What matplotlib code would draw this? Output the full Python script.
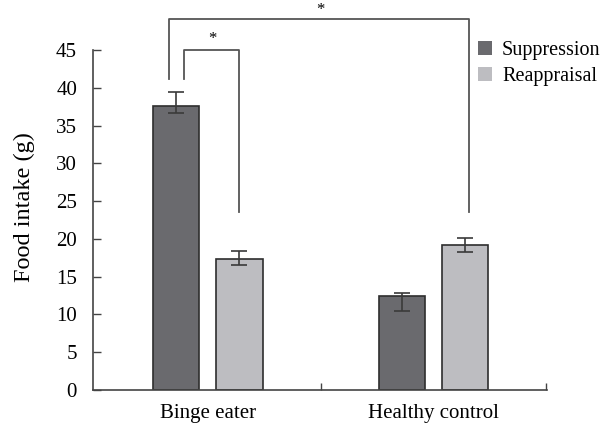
import matplotlib
matplotlib.use("Agg")
import matplotlib.pyplot as plt
import numpy as np

# data
groups = ["Binge eater", "Healthy control"]
conditions = ["Suppression", "Reappraisal"]
suppression = [37.6, 12.4]
reappraisal = [17.4, 19.15]
supp_err_low = [1.0, 1.9]
supp_err_high = [1.9, 0.4]
reap_err_low = [0.8, 0.85]
reap_err_high = [1.0, 0.95]

plt.rcParams['font.family'] = ['Liberation Serif', 'DejaVu Serif']
plt.rcParams['font.size'] = 15

dark = '#6a6a6e'
light = '#bdbdc1'
edge = '#2e2e2e'

fig = plt.figure(figsize=(6.03, 4.26), dpi=100)
ax = fig.add_axes([0.1542, 0.0845, 0.7529, 0.7981])

x = np.arange(len(groups))
width = 0.205
offset = 0.14
err_kw = dict(ecolor='#3a3a3a', elinewidth=1.2, capsize=6, capthick=1.2)
ax.bar(x - offset, suppression, width, color=dark, edgecolor=edge, linewidth=1.2,
       yerr=[supp_err_low, supp_err_high], error_kw=err_kw)
ax.bar(x + offset, reappraisal, width, color=light, edgecolor=edge, linewidth=1.2,
       yerr=[reap_err_low, reap_err_high], error_kw=err_kw)

ax.set_xlim(-0.51, 1.505)
ax.set_ylim(0, 45)
ax.set_yticks(np.arange(0, 46, 5))
ax.set_xticks(x)
ax.set_xticklabels(groups)
ax.set_xticks([0.5, 1.5], minor=True)
ax.tick_params(axis='x', which='major', length=0, pad=10)
ax.tick_params(axis='x', which='minor', direction='in', length=5, width=1, color='#444444')
ax.tick_params(axis='y', direction='in', length=6, width=1, pad=11.5, color='#444444')
ax.set_ylabel('Food intake (g)', fontsize=17.5)
ax.yaxis.set_label_coords(-0.128, 0.538)
for s in ['top', 'right']:
    ax.spines[s].set_visible(False)
for s in ['left', 'bottom']:
    ax.spines[s].set_color('#444444')
    ax.spines[s].set_linewidth(1.2)

# significance brackets
line_kw = dict(color='#555555', linewidth=1.3, clip_on=False)
ax.plot([-0.105, -0.105, 0.139, 0.139], [41.1, 45.0, 45.0, 23.6], **line_kw)
ax.text(0.02, 46.5, '*', ha='center', va='center', fontsize=12, clip_on=False)
ax.plot([-0.173, -0.173, 1.157, 1.157], [41.1, 49.1, 49.1, 23.6], **line_kw)
ax.text(0.5, 50.35, '*', ha='center', va='center', fontsize=12, clip_on=False)

handles = [plt.Rectangle((0, 0), 1, 1, color=dark, linewidth=0),
           plt.Rectangle((0, 0), 1, 1, color=light, linewidth=0)]
ax.legend(handles, conditions, loc='upper left', bbox_to_anchor=(0.83, 1.05),
          frameon=False, handlelength=0.7, handleheight=0.7, handletextpad=0.5,
          labelspacing=0.35, borderaxespad=0, fontsize=14.5)

fig.savefig('out.png', dpi=100)
